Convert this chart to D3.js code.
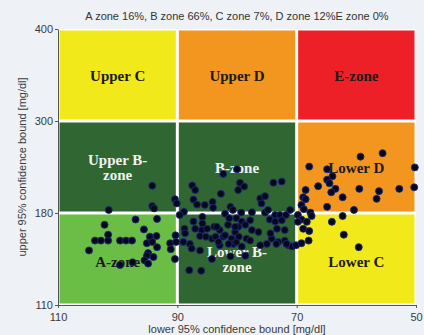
<!DOCTYPE html>
<html><head><meta charset="utf-8">
<script src="https://cdn.jsdelivr.net/npm/d3@7"></script>
<style>html,body{margin:0;padding:0;background:#eef1f5;}svg{display:block;}</style>
</head><body>
<svg id="c" width="424" height="335"></svg>
<script>
const title = "A zone 16%, B zone 66%, C zone 7%, D zone 12%E zone 0%";
const xLabel = "lower 95% confidence bound [mg/dl]";
const yLabel = "upper 95% confidence bound [mg/dl]";
const xTicks = [110, 90, 70, 50];
const yTicks = [110, 180, 300, 400];
const xBands = [[110, 90], [90, 70], [70, 50]];
const yBands = [[110, 180], [180, 300], [300, 400]];
// zones: [col, row, name lines, fill, text colour]
const zones = [
  [0, 2, ["Upper C"], "#f1e919", "#1a1a1a"],
  [1, 2, ["Upper D"], "#f2961f", "#1a1a1a"],
  [2, 2, ["E-zone"], "#ee2027", "#1a1a1a"],
  [0, 1, ["Upper B-", "zone"], "#306632", "#f2f2f2"],
  [1, 1, ["B-zone"], "#306632", "#f2f2f2"],
  [2, 1, ["Lower D"], "#f2961f", "#1a1a1a"],
  [0, 0, ["A-zone"], "#6abd45", "#1a1a1a"],
  [1, 0, ["Lower B-", "zone"], "#306632", "#f2f2f2"],
  [2, 0, ["Lower C"], "#f1e919", "#1a1a1a"]
];
// [lower bound, upper bound]
const leftGroup = [[101.5,184],[102.2,171],[97,175],[95.6,167.5],[104.8,151.5],[103.8,159],[102.8,159],[101.6,159],[101.6,163.5],[99.6,159],[98.6,159],[97.6,159],[94.6,162],[93.5,162.5],[95.1,157],[94.2,158],[93.4,154],[94.9,149.5],[94,146.5],[95.1,147.5],[95.5,144],[94.9,141.5],[99.6,140.5],[97.5,142.5],[91.2,157],[91.1,152.5],[90.3,163],[90.4,145],[94.2,215.5],[94.2,189],[93.9,186],[93.4,175.5],[90.2,158]];
const centralGroupA = [[90.4,198],[90.1,192.5],[87.5,216],[87,210],[87.3,197.5],[86.7,191],[85.4,190.5],[84.1,194.5],[84,187],[82.3,231],[82.7,205],[81.1,188],[80.7,184],[88.9,181.5],[89.6,178.5],[82,179.5],[81.3,176],[85.8,177],[85.8,172],[87.3,173.5],[88.8,168],[88.7,164.5],[87,168],[85.9,167],[85,168],[83.8,169.5],[82.9,167],[86.2,162.5],[85.2,162],[84.2,160.5],[82.3,162],[80.9,160.5],[80.3,165.5],[87.9,156.5],[82.9,155.5],[80.6,156.5],[81.5,171]];
const centralGroupB = [[79.5,219.5],[78.8,214.5],[73.9,219.5],[72.5,221],[79.8,210],[76.1,199],[75.3,202],[75.9,192.5],[79.3,180.5],[77.5,181],[80.1,176],[79.2,173.5],[77.8,174.5],[75.3,180.5],[74.8,184],[73.6,178.5],[72.8,178.5],[71.8,178.5],[71.1,184],[74.5,175],[73.6,173.5],[72.5,174.5],[79.8,169.5],[77.5,167],[76.4,165.5],[73.3,168],[72,167],[78.4,160.5],[77.8,159],[74.2,160.5],[73.1,158],[72,159],[71.4,155.5],[80.1,158],[79.2,154.5],[75,156.5],[70.8,154.5],[70.1,155.5]];
const centralGroupC = [[83.4,169.5],[80.3,169.5],[78.6,171],[83.6,162],[82,163],[79.7,162],[83.1,158],[81.4,156.5],[84.2,145],[81.1,147],[78.6,147.5],[76.1,155.5],[74.4,164.5],[71.7,156.5],[73.4,156.5],[88,136.5],[86,136],[89,158],[87.6,153],[86.2,151.5],[80,237]];
const dGroup = [[59.3,253.5],[55.6,258],[67.9,240.5],[64.9,237],[50.2,239.5],[64,228],[64.9,223.5],[64.5,218.7],[66.4,215],[63.5,211.5],[64.2,207],[59.5,211.5],[56.2,208.5],[52.8,211.5],[50.3,213.5],[68.5,210],[68.9,200.5],[68.5,198],[62.3,200.5],[56.6,198.5],[69.2,190.5],[68.8,185],[64.9,188],[60.4,184],[67.7,180.5]];
const cGroup = [[67.5,177.7],[69.8,178.5],[69.2,175],[69.8,173.3],[68.3,173.3],[62.3,177.7],[64.1,173.3],[68.9,168],[67.9,166.3],[68,159],[69.2,157],[62.1,163.5],[59.6,154]];

const points = [].concat(leftGroup, centralGroupA, centralGroupB, centralGroupC, dGroup, cGroup);

const svg = d3.select("#c");
const x = d3.scaleLinear().domain([110, 50]).range([58, 416]);
const y = d3.scaleLinear().domain([110, 180, 300, 400]).range([305, 213, 121, 29]);

svg.append("rect").attr("x", 58).attr("y", 29).attr("width", 358).attr("height", 276).attr("fill", "#ffffff");

const gap = 1.5;
const cells = svg.append("g");
zones.forEach(z => {
  const xb = xBands[z[0]], yb = yBands[z[1]];
  const x0 = x(xb[0]), x1 = x(xb[1]), y0 = y(yb[1]), y1 = y(yb[0]);
  cells.append("rect")
    .attr("x", x0 + gap).attr("y", y0 + gap)
    .attr("width", x1 - x0 - 2 * gap).attr("height", y1 - y0 - 2 * gap)
    .attr("fill", z[3]);
});

zones.forEach(z => {
  const xb = xBands[z[0]], yb = yBands[z[1]];
  const cx = (x(xb[0]) + x(xb[1])) / 2;
  const lines = z[2];
  const baseY = {"2": 81, "1": lines.length > 1 ? 165 : 173, "0": lines.length > 1 ? 257 : 267}[z[1]];
  const t = svg.append("text")
    .attr("x", cx).attr("y", baseY)
    .attr("text-anchor", "middle")
    .attr("font-family", "'Liberation Serif','Times New Roman',serif")
    .attr("font-weight", "bold").attr("font-size", 15)
    .attr("fill", z[4]);
  lines.forEach((l, i) => {
    t.append("tspan").attr("x", cx).attr("dy", i === 0 ? 0 : 15).text(l);
  });
});

svg.append("g").selectAll("circle").data(points).join("circle")
  .attr("cx", d => x(d[0])).attr("cy", d => y(d[1])).attr("r", 3.5)
  .attr("fill", "#08081c").attr("stroke", "#1c2a78").attr("stroke-width", 0.9);

const axFont = "'Liberation Sans',Arial,sans-serif";
const gx = svg.append("g").attr("transform", "translate(0,305)")
  .call(d3.axisBottom(x).tickValues(xTicks).tickSize(3).tickSizeOuter(0).tickFormat(d3.format("d")));
const gy = svg.append("g").attr("transform", "translate(58,0)")
  .call(d3.axisLeft(y).tickValues(yTicks).tickSize(3).tickSizeOuter(0).tickFormat(d3.format("d")));
[gx, gy].forEach(g => {
  g.select(".domain").attr("stroke", "#555").attr("stroke-width", 1);
  g.selectAll(".tick line").attr("stroke", "#555");
  g.selectAll(".tick text").attr("fill", "#3a3a3a").attr("font-size", 11).attr("font-family", axFont);
});
gx.selectAll(".tick text").attr("dy", "0.9em");
gy.selectAll(".tick text").attr("x", -5);

svg.append("text").attr("x", 237).attr("y", 20).attr("text-anchor", "middle")
  .attr("font-family", axFont).attr("font-size", 11).attr("fill", "#333").text(title);
svg.append("text").attr("x", 237).attr("y", 333).attr("text-anchor", "middle")
  .attr("font-family", axFont).attr("font-size", 11).attr("fill", "#3a3a3a").text(xLabel);
svg.append("text").attr("transform", "translate(26,167) rotate(-90)").attr("text-anchor", "middle")
  .attr("font-family", axFont).attr("font-size", 11).attr("fill", "#3a3a3a").text(yLabel);
</script>
</body></html>
